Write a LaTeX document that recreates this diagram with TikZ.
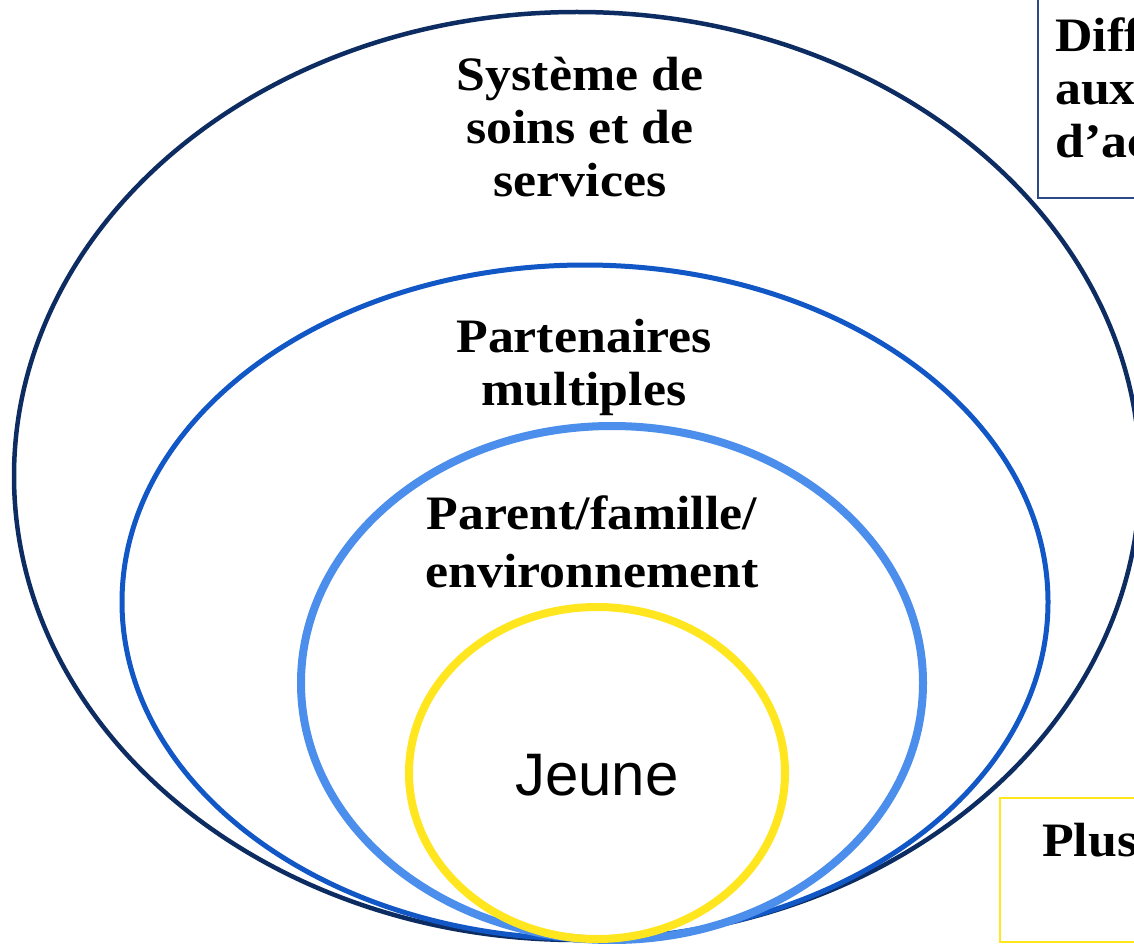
\documentclass[tikz,border=0pt]{standalone}
\usepackage{fontspec}
\setmainfont{Liberation Serif}
\newfontfamily\lblfont[FakeStretch=1.08]{Liberation Serif}
\newfontfamily\jeunefont{Liberation Sans}
\definecolor{navy}{HTML}{0D2D62}
\definecolor{midblue}{HTML}{1257C6}
\definecolor{lightblue}{HTML}{4B8EEB}
\definecolor{ylw}{HTML}{FFE61E}
\definecolor{boxblue}{HTML}{2A4A8A}
\tikzset{
  lbl/.style={align=center, inner sep=0pt, font=\lblfont\fontsize{48}{53}\selectfont\bfseries},
  sidelbl/.style={align=left, anchor=north west, inner sep=0pt, font=\lblfont\fontsize{48}{53}\selectfont\bfseries},
}
\begin{document}
\begin{tikzpicture}[x=1pt,y=-1pt]
\useasboundingbox (0,0) rectangle (1134,944);
\clip (0,0) rectangle (1134,944);
\fill[white] (0,0) rectangle (1134,944);
% side boxes
\draw[boxblue, line width=1.5pt] (1038,-10) rectangle (1200,198);
\node[sidelbl] (diff) at (1055,18) {Diff\\aux\\d’ac};
\draw[ylw, line width=1.5pt] (1000,798) rectangle (1200,942);
\node[sidelbl, anchor=base west] (plus) at (1042,856) {Plus};
% ellipses
\draw[navy, line width=4.5pt] (577,476) ellipse [x radius=563, y radius=464];
\draw[midblue, line width=5pt] (585,602) ellipse [x radius=463, y radius=337];
\draw[lightblue, line width=8pt] (612,683) ellipse [x radius=311, y radius=257];
\draw[ylw, line width=8pt] (597,773) ellipse [x radius=188, y radius=166];
% labels
\node[lbl] (sys) at (580,127) {Système de\\soins et de\\services};
\node[lbl] (part) at (584,367) {Partenaires\\multiples};
\node[lbl, font=\lblfont\fontsize{48}{58}\selectfont\bfseries] (par) at (592,542) {Parent/famille/\\environnement};
\node[inner sep=0pt, font=\jeunefont\fontsize{60}{60}\selectfont] (jeune) at (597,775) {Jeune};
\end{tikzpicture}
\end{document}
